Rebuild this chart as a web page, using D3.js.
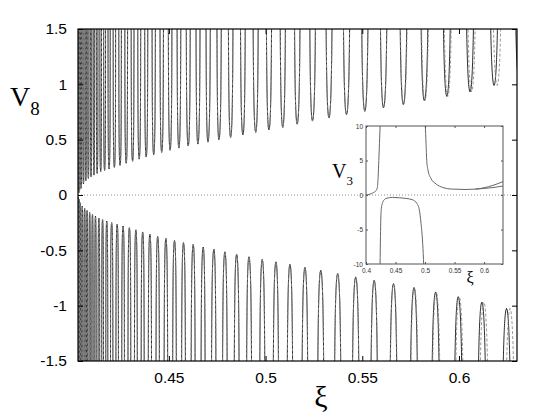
<!DOCTYPE html>
<html><head><meta charset="utf-8">
<script src="https://cdn.jsdelivr.net/npm/d3@7"></script>
<style>body{margin:0;background:#fff}svg{display:block}</style>
</head><body><svg id="c" width="554" height="417"></svg>
<script>
// ---------- data ----------
// tips (extrema) of the upper branches of V8 (xi, value)
const upperTipXi = [0.40344,0.40380,0.40458,0.40582,0.40706,0.40835,0.40975,0.41125,0.41291,0.41472,0.41674,0.41906,0.42181,0.42475,0.42791,0.43122,0.43464,0.43826,0.44214,0.44628,0.45062,0.45517,0.45998,0.46500,0.47018,0.47587,0.48192,0.48828,0.49490,0.50173,0.50887,0.51632,0.52424,0.53277,0.54183,0.55129,0.56097,0.57121,0.58208,0.59371,0.60572,0.61813,0.63106];
const upperTipV  = [0.02,0.04,0.06,0.10,0.13,0.15,0.165,0.18,0.195,0.21,0.222,0.236,0.25,0.268,0.287,0.305,0.324,0.343,0.365,0.385,0.405,0.424,0.443,0.46,0.478,0.5,0.52,0.543,0.566,0.588,0.61,0.64,0.668,0.697,0.725,0.756,0.787,0.817,0.851,0.891,0.932,0.99,1.03];
// tips of the lower branches
const lowerTipXi = [0.40323,0.40360,0.40406,0.40520,0.40644,0.40768,0.40903,0.41048,0.41203,0.41379,0.41570,0.41787,0.42041,0.42325,0.42631,0.42957,0.43293,0.43645,0.44017,0.44421,0.44845,0.45290,0.45755,0.46257,0.46774,0.47328,0.47897,0.48502,0.49139,0.49827,0.50535,0.51260,0.52036,0.52853,0.53727,0.54659,0.55616,0.56614,0.57675,0.58792,0.59961,0.61182,0.62460];
const lowerTipV  = [-0.02,-0.04,-0.07,-0.10,-0.12,-0.14,-0.158,-0.175,-0.192,-0.208,-0.222,-0.236,-0.25,-0.264,-0.28,-0.296,-0.315,-0.334,-0.354,-0.375,-0.393,-0.41,-0.43,-0.447,-0.47,-0.491,-0.513,-0.534,-0.558,-0.582,-0.604,-0.627,-0.654,-0.68,-0.709,-0.74,-0.77,-0.8,-0.836,-0.876,-0.919,-0.968,-1.025];
// dashed curve: shift of the last tips to the right (xi units)
const dashedShiftUpper = [0.00015,0.00025,0.0005,0.0008,0.0016,0.0021];
const dashedShiftLower = [0.0001,0.0002,0.0003,0.0005,0.001,0.0018];

const xTicks = [0.45,0.5,0.55,0.6];
const yTicks = [-1.5,-1,-0.5,0,0.5,1,1.5];

// inset V3
const insetAXi = [0.400,0.406,0.4115,0.416,0.419,0.4206,0.4217,0.4228,0.424];
const insetAV  = [0.02,0.1,0.3,0.55,1.0,2.7,5.0,7.5,10.2];
const insetBXi = [0.4238,0.4245,0.4257,0.4285,0.434,0.445,0.4566,0.468,0.479,0.486,0.4904,0.4932,0.496,0.4978];
const insetBV  = [-10.2,-6,-2.2,-1.0,-0.5,-0.35,-0.4,-0.5,-0.7,-1.2,-2.2,-4.1,-7,-10.2];
const insetCXi = [0.5003,0.5017,0.5028,0.505,0.51,0.5186,0.5297,0.5466,0.5693,0.585,0.6,0.615,0.632];
const insetCV  = [10.2,7.5,5.0,3.6,2.4,1.6,1.1,0.85,0.8,0.85,1.05,1.4,1.93];
const insetDXi = [0.585,0.6,0.615,0.632];
const insetDV  = [0.85,0.95,1.08,1.3];
const insetXTicks = [0.4,0.45,0.5,0.55,0.6];
const insetYTicks = [-10,-5,0,5,10];

// ---------- drawing ----------
const svg = d3.select('#c');
const L=78, R=517, T=29, B=361;
const x = d3.scaleLinear().domain([0.403,0.63]).range([L,R]);
const y = d3.scaleLinear().domain([-1.5,1.5]).range([B,T]);

svg.append('defs').append('clipPath').attr('id','clipMain')
  .append('rect').attr('x',L).attr('y',T).attr('width',R-L).attr('height',B-T);

// zero line
svg.append('line').attr('x1',L).attr('x2',R).attr('y1',y(0)).attr('y2',y(0))
  .attr('stroke','#777').attr('stroke-width',0.8).attr('stroke-dasharray','1,2');

function buildTips(shiftU, shiftL){
  const nU = upperTipXi.length, nL = lowerTipXi.length;
  const tips = [];
  upperTipXi.forEach((v,i)=>{
    const k = i-(nU-shiftU.length);
    tips.push({xi: v + (shiftU && k>=0 ? shiftU[k] : 0), m: upperTipV[i]});
  });
  lowerTipXi.forEach((v,i)=>{
    const k = i-(nL-shiftL.length);
    tips.push({xi: v + (shiftL && k>=0 ? shiftL[k] : 0), m: lowerTipV[i]});
  });
  tips.sort((a,b)=>a.xi-b.xi);
  return tips;
}
function branches(tips){
  const out=[]; const K=40, vmax=1.9;
  tips.forEach((t,i)=>{
    const pL = i>0 ? (tips[i-1].xi+t.xi)/2 : t.xi-((tips[1].xi-t.xi)/2);
    const pR = i<tips.length-1 ? (tips[i+1].xi+t.xi)/2 : t.xi+((t.xi-tips[i-1].xi)/2);
    const a = Math.abs(t.m), s = Math.sign(t.m);
    const pts=[];
    for(let k=K;k>=0;k--){const v=a*Math.pow(vmax/a,k/K);const f=Math.acos(a/v)/(Math.PI/2);pts.push([t.xi-(t.xi-pL)*f,s*v]);}
    for(let k=1;k<=K;k++){const v=a*Math.pow(vmax/a,k/K);const f=Math.acos(a/v)/(Math.PI/2);pts.push([t.xi+(pR-t.xi)*f,s*v]);}
    out.push(pts);
  });
  return out;
}
const line = d3.line().x(d=>x(d[0])).y(d=>y(d[1]));
const gc = svg.append('g').attr('clip-path','url(#clipMain)');
gc.selectAll('path.solid').data(branches(buildTips([],[]))).join('path')
  .attr('class','solid').attr('d',line).attr('fill','none').attr('stroke','#111').attr('stroke-width',0.9);
gc.selectAll('path.dash').data(branches(buildTips(dashedShiftUpper,dashedShiftLower))).join('path')
  .attr('class','dash').attr('d',line).attr('fill','none').attr('stroke','#888').attr('stroke-width',0.9).attr('stroke-dasharray','3,2');

// axes
const font = 'Liberation Sans, Arial, Helvetica, sans-serif';
const fmt = d=>String(d);
function styleAxis(g, fs){g.select('.domain').remove();g.selectAll('text').attr('font-family',font).attr('font-size',fs).attr('fill','#000');g.selectAll('line').attr('stroke','#000');}
svg.append('g').attr('transform',`translate(0,${B})`)
  .call(d3.axisBottom(x).tickValues(xTicks).tickSizeInner(-5).tickSizeOuter(0).tickPadding(11).tickFormat(fmt)).call(g=>styleAxis(g,15.5));
svg.append('g').attr('transform',`translate(0,${T})`)
  .call(d3.axisTop(x).tickValues(xTicks).tickSizeInner(-5).tickSizeOuter(0).tickFormat('')).call(g=>styleAxis(g,15.5));
svg.append('g').attr('transform',`translate(${L},0)`)
  .call(d3.axisLeft(y).tickValues(yTicks).tickSizeInner(-5).tickSizeOuter(0).tickPadding(11).tickFormat(fmt)).call(g=>styleAxis(g,15.5));
svg.append('g').attr('transform',`translate(${R},0)`)
  .call(d3.axisRight(y).tickValues(yTicks).tickSizeInner(-5).tickSizeOuter(0).tickFormat('')).call(g=>styleAxis(g,15.5));
svg.append('rect').attr('x',L).attr('y',T).attr('width',R-L).attr('height',B-T)
  .attr('fill','none').attr('stroke','#000').attr('stroke-width',1.2);

// axis labels
const serif = 'Liberation Serif, Times New Roman, serif';
const vl = svg.append('text').attr('x',10).attr('y',106).attr('font-family',serif).attr('font-size',28).attr('fill','#000');
vl.append('tspan').text('V');
vl.append('tspan').attr('font-size',19).attr('dy',9).text('8');
svg.append('text').attr('x',321).attr('y',407).attr('text-anchor','middle').attr('font-family',serif).attr('font-size',30).attr('fill','#000').text('ξ');

// ---------- inset ----------
const IL=366, IR=503, IT=126, IB=264;
const ix = d3.scaleLinear().domain([0.4,0.632]).range([IL,IR]);
const iy = d3.scaleLinear().domain([-10,10]).range([IB,IT]);
svg.append('rect').attr('x',IL).attr('y',IT).attr('width',IR-IL).attr('height',IB-IT).attr('fill','#fff');
svg.append('defs').append('clipPath').attr('id','clipInset')
  .append('rect').attr('x',IL).attr('y',IT).attr('width',IR-IL).attr('height',IB-IT);
svg.append('line').attr('x1',IL).attr('x2',IR).attr('y1',iy(0)).attr('y2',iy(0))
  .attr('stroke','#777').attr('stroke-width',0.8).attr('stroke-dasharray','1,2');
const iline = d3.line().x(d=>ix(d[0])).y(d=>iy(d[1])).curve(d3.curveMonotoneX);
const insetSeries = [d3.zip(insetAXi,insetAV), d3.zip(insetBXi,insetBV), d3.zip(insetCXi,insetCV), d3.zip(insetDXi,insetDV)];
svg.append('g').attr('clip-path','url(#clipInset)').selectAll('path').data(insetSeries).join('path')
  .attr('d',iline).attr('fill','none').attr('stroke','#666').attr('stroke-width',1);
function styleInset(g){g.select('.domain').remove();g.selectAll('text').attr('font-family',font).attr('font-size',6.5).attr('fill','#333');g.selectAll('line').attr('stroke','#555');}
svg.append('g').attr('transform',`translate(0,${IB})`)
  .call(d3.axisBottom(ix).tickValues(insetXTicks).tickSizeInner(-2).tickSizeOuter(0).tickPadding(4).tickFormat(fmt)).call(styleInset);
svg.append('g').attr('transform',`translate(0,${IT})`)
  .call(d3.axisTop(ix).tickValues(insetXTicks).tickSizeInner(-2).tickSizeOuter(0).tickFormat('')).call(styleInset);
svg.append('g').attr('transform',`translate(${IL},0)`)
  .call(d3.axisLeft(iy).tickValues(insetYTicks).tickSizeInner(-2).tickSizeOuter(0).tickPadding(3).tickFormat(fmt)).call(styleInset);
svg.append('g').attr('transform',`translate(${IR},0)`)
  .call(d3.axisRight(iy).tickValues(insetYTicks).tickSizeInner(-2).tickSizeOuter(0).tickFormat('')).call(styleInset);
svg.append('rect').attr('x',IL).attr('y',IT).attr('width',IR-IL).attr('height',IB-IT)
  .attr('fill','none').attr('stroke','#555').attr('stroke-width',1);
const v3 = svg.append('text').attr('x',332).attr('y',178).attr('font-family',serif).attr('font-size',20).attr('fill','#000');
v3.append('tspan').text('V');
v3.append('tspan').attr('font-size',13).attr('dy',7).text('3');
svg.append('text').attr('x',470).attr('y',283).attr('text-anchor','middle').attr('font-family',serif).attr('font-size',16).attr('fill','#000').text('ξ');
</script></body></html>
